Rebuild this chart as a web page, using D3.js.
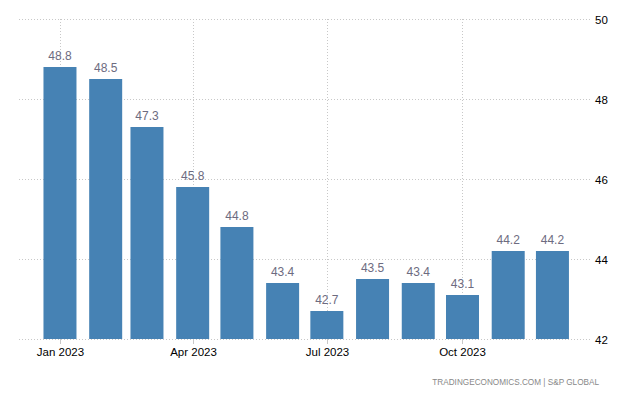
<!DOCTYPE html>
<html><head><meta charset="utf-8">
<script src="https://cdn.jsdelivr.net/npm/d3@7"></script>
<style>body{margin:0;background:#fff;font-family:"Liberation Sans",Arial,sans-serif}</style>
</head><body><svg id="c" width="640" height="400"></svg>
<script>
const months = ["2023-01-01","2023-02-01","2023-03-01","2023-04-01","2023-05-01","2023-06-01","2023-07-01","2023-08-01","2023-09-01","2023-10-01","2023-11-01","2023-12-01"];
const values = [48.8,48.5,47.3,45.8,44.8,43.4,42.7,43.5,43.4,43.1,44.2,44.2];
const yTicks = [42,44,46,48,50];
const xTickDates = ["2023-01-01","2023-04-01","2023-07-01","2023-10-01"];
const xTickLabels = ["Jan 2023","Apr 2023","Jul 2023","Oct 2023"];
const sourceText = "TRADINGECONOMICS.COM | S&P GLOBAL";

const parse = d3.utcParse("%Y-%m-%d");
const svg = d3.select("#c").attr("font-family","'Liberation Sans',Arial,sans-serif");
const pL = 19, pR = 592, pT = 19, pB = 339;
const x = d3.scaleUtc()
  .domain([new Date(Date.UTC(2022,11,4,5)), new Date(Date.UTC(2023,11,27,20))])
  .range([pL, pR]);
const y = d3.scaleLinear().domain([42,50]).range([pB, pT]);

const grid = svg.append("g").attr("stroke","#c8c8c8").attr("stroke-dasharray","1,2").attr("stroke-width",1);
yTicks.forEach(t => {
  grid.append("line").attr("x1",pL).attr("x2",pR).attr("y1",Math.round(y(t))+0.5).attr("y2",Math.round(y(t))+0.5);
});
xTickDates.forEach(d => {
  const px = Math.round(x(parse(d)))+0.5;
  grid.append("line").attr("x1",px).attr("x2",px).attr("y1",pT).attr("y2",pB);
});

const bw = 33;
svg.append("g").selectAll("rect").data(values).join("rect")
  .attr("x",(v,i)=>x(parse(months[i]))-bw/2)
  .attr("width",bw)
  .attr("y",v=>y(v))
  .attr("height",v=>y(42)-y(v))
  .attr("fill","#4682b4");

svg.append("g").selectAll("text").data(values).join("text")
  .attr("x",(v,i)=>x(parse(months[i])))
  .attr("y",v=>y(v)-7)
  .attr("text-anchor","middle")
  .attr("font-size","12px")
  .attr("fill","#6d6b80")
  .text(v=>v.toFixed(1));

xTickDates.forEach((d,i) => {
  const px = Math.round(x(parse(d)))+0.5;
  svg.append("line").attr("x1",px).attr("x2",px).attr("y1",pB).attr("y2",pB+5).attr("stroke","#c8c8c8");
  svg.append("text").attr("x",px).attr("y",356).attr("text-anchor","middle")
    .attr("font-size","11.5px").attr("fill","#000").text(xTickLabels[i]);
});
yTicks.forEach(t => {
  svg.append("text").attr("x",595).attr("y",y(t)+4.5).attr("font-size","11.5px").attr("fill","#000").text(t);
});

svg.append("text").attr("x",599).attr("y",385).attr("text-anchor","end")
  .attr("font-size","8.2px").attr("fill","#888").text(sourceText);
</script></body></html>
